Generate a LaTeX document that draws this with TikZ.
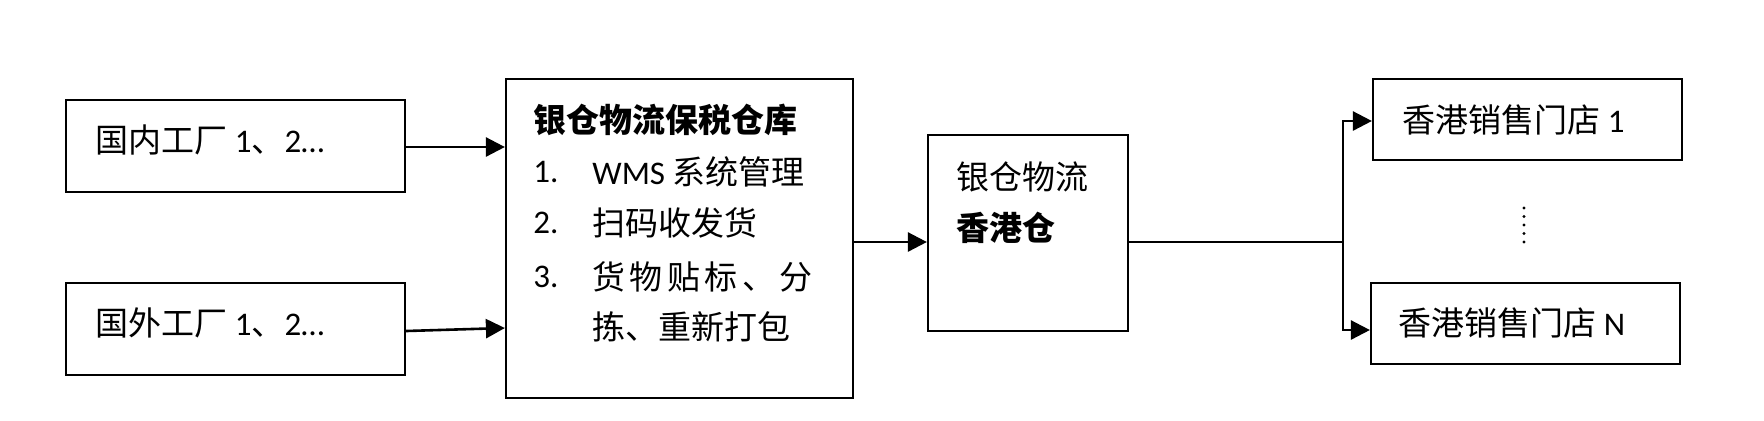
\documentclass[tikz,border=0pt]{standalone}
\usepackage{fontspec}
\setmainfont{Carlito}
\newfontfamily\cjk{Noto Sans CJK SC}
\usetikzlibrary{arrows.meta,calc}
\begin{document}
\begin{tikzpicture}[x=0.5pt,y=-0.5pt,
  box/.style={draw,line width=1.1pt,inner sep=0pt},
  txt/.style={anchor=west,inner sep=0pt,font=\fontsize{16.5}{20}\selectfont},
  btxt/.style={anchor=west,inner sep=0pt,font=\fontsize{16.5}{20}\selectfont\cjk\bfseries},
  arr/.style={line width=1.3pt,-{Triangle[length=9.5pt,width=9.5pt]}},
  ln/.style={line width=1.3pt}]
\useasboundingbox (0,0) rectangle (1764,420);
% boxes
\node[box, minimum width=169.5pt, minimum height=46pt] (A) at (235.5,146) {};
\node[box, minimum width=169.5pt, minimum height=46pt] (B) at (235.5,329) {};
\node[box, minimum width=173.5pt, minimum height=159.5pt] (C) at (679.5,238.5) {};
\node[box, minimum width=100pt, minimum height=98pt] (D) at (1028,233) {};
\node[box, minimum width=154.5pt, minimum height=40.5pt] (E) at (1527.5,119.5) {};
\node[box, minimum width=154.5pt, minimum height=40.5pt] (F) at (1525.5,323.5) {};
% texts
\node[txt] (tA) at (95,140) {{\cjk 国内工厂} 1{\cjk 、}2…};
\node[txt] (tB) at (95,323) {{\cjk 国外工厂} 1{\cjk 、}2…};
\node[btxt] (tC) at (533,120) {银仓物流保税仓库};
\node[txt] (n1) at (533,172) {1.};
\node[txt] (i1) at (592,172) {WMS {\cjk 系统管理}};
\node[txt] (n2) at (533,223) {2.};
\node[txt] (i2) at (592,223) {\cjk 扫码收发货};
\node[txt] (n3) at (533,277) {3.};
\node[txt] (i3) at (592,277) {\cjk 货\hspace{2.2pt}物\hspace{2.2pt}贴\hspace{2.2pt}标\hspace{2.2pt}、\hspace{2.2pt}分};
\node[txt] (i3b) at (592,327) {\cjk 拣、重新打包};
\node[txt] (tD1) at (956,177) {\cjk 银仓物流};
\node[btxt] (tD2) at (956,228) {香港仓};
\node[txt] (tE) at (1402,120) {{\cjk 香港销售门店} 1};
\node[txt] (tF) at (1398,323) {{\cjk 香港销售门店} N};
% connectors
\draw[arr] ($(A.east)+(0,1)$) -- ($(A.east -| C.west)+(0,1)$);
\draw[arr] ($(B.east)+(0,2)$) -- ($(B.east -| C.west)+(0,-1)$);
\draw[arr] ($(C.east)+(0,3.5)$) -- ($(C.east -| D.west)+(0,3.5)$);
\coordinate (J) at (1343,242);
\draw[ln] ($(D.east)+(0,9)$) -- (J);
\draw[arr] (J) |- ($(E.west)+(0,1.5)$);
\draw[arr] (J) |- ($(F.west)+(0,6.5)$);
% vertical dots
\foreach \yy in {208,216.5,225,233.5,242} \fill (1524,\yy) circle[radius=0.8pt];
\end{tikzpicture}
\end{document}
